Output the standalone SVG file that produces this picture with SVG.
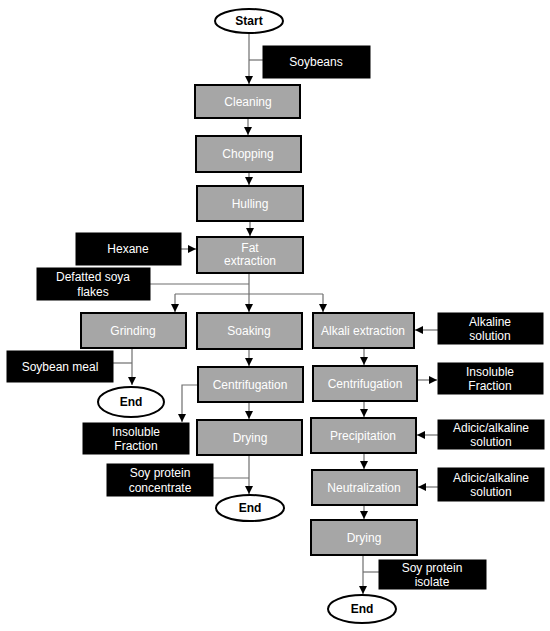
<svg xmlns="http://www.w3.org/2000/svg" width="550" height="631" viewBox="0 0 550 631">
<style>
.p rect{fill:#a6a6a6;stroke:#000;stroke-width:2}
.b rect{fill:#000;stroke:#000;stroke-width:1}
.t ellipse{fill:#fff;stroke:#000;stroke-width:2}
text{font-family:"Liberation Sans",Arial,sans-serif;font-size:12px;text-anchor:middle}
.p text,.b text{fill:#fff}
.t text{fill:#000;font-weight:bold}
.c path{fill:none;stroke:#6e6e6e;stroke-width:1.2}
</style>
<defs>
<marker id="a" viewBox="0 0 10 10" refX="10" refY="5" markerWidth="8" markerHeight="8" markerUnits="userSpaceOnUse" orient="auto">
<path d="M0,0 L10,5 L0,10 z" fill="#000"/>
</marker>
</defs>
<rect width="550" height="631" fill="#fff"/>
<g class="c">
<path d="M249,33 V84" marker-end="url(#a)"/>
<path d="M263,60 H249"/>
<path d="M248,118 V135" marker-end="url(#a)"/>
<path d="M249,172 V185" marker-end="url(#a)"/>
<path d="M250,221 V236" marker-end="url(#a)"/>
<path d="M181,249 H196" marker-end="url(#a)"/>
<path d="M150,284 H249"/>
<path d="M249,273 V294"/>
<path d="M175,294 H323"/>
<path d="M175,294 V312" marker-end="url(#a)"/>
<path d="M249,294 V312" marker-end="url(#a)"/>
<path d="M323,294 V312" marker-end="url(#a)"/>
<path d="M132,348 V385" marker-end="url(#a)"/>
<path d="M113,363 H132"/>
<path d="M249,349 V366" marker-end="url(#a)"/>
<path d="M198,385 H182 V422" marker-end="url(#a)"/>
<path d="M249,402 V419" marker-end="url(#a)"/>
<path d="M249,455 V494" marker-end="url(#a)"/>
<path d="M213,478 H249"/>
<path d="M438,330 H415" marker-end="url(#a)"/>
<path d="M364,348 V365" marker-end="url(#a)"/>
<path d="M417,380 H437" marker-end="url(#a)"/>
<path d="M364,401 V417" marker-end="url(#a)"/>
<path d="M438,435 H417" marker-end="url(#a)"/>
<path d="M364,453 V469" marker-end="url(#a)"/>
<path d="M438,487 H418" marker-end="url(#a)"/>
<path d="M364,505 V519" marker-end="url(#a)"/>
<path d="M363,555 V594" marker-end="url(#a)"/>
<path d="M379,572 H363"/>
</g>
<g id="start" class="t"><ellipse cx="249" cy="21" rx="34" ry="12"/><text x="249" y="25">Start</text></g>
<g id="soybeans" class="b"><rect x="263" y="46" width="107" height="32"/><text x="316" y="66">Soybeans</text></g>
<g id="cleaning" class="p"><rect x="195" y="85" width="105" height="33"/><text x="248" y="106">Cleaning</text></g>
<g id="chopping" class="p"><rect x="196" y="136" width="105" height="36"/><text x="248" y="158">Chopping</text></g>
<g id="hulling" class="p"><rect x="197" y="186" width="106" height="35"/><text x="250" y="208">Hulling</text></g>
<g id="hexane" class="b"><rect x="76" y="233" width="105" height="32"/><text x="128" y="253">Hexane</text></g>
<g id="fat" class="p"><rect x="197" y="237" width="106" height="36"/><text x="250" y="252">Fat</text><text x="250" y="265">extraction</text></g>
<g id="defatted" class="b"><rect x="37" y="268" width="113" height="32"/><text x="93" y="281">Defatted soya</text><text x="93" y="296">flakes</text></g>
<g id="grinding" class="p"><rect x="81" y="313" width="105" height="35"/><text x="133" y="335">Grinding</text></g>
<g id="soaking" class="p"><rect x="197" y="313" width="105" height="36"/><text x="249" y="335">Soaking</text></g>
<g id="alkali" class="p"><rect x="313" y="313" width="101" height="35"/><text x="363" y="335">Alkali extraction</text></g>
<g id="alkaline" class="b"><rect x="438" y="313" width="105" height="31"/><text x="490" y="326">Alkaline</text><text x="490" y="340">solution</text></g>
<g id="meal" class="b"><rect x="7" y="351" width="106" height="31"/><text x="60" y="371">Soybean meal</text></g>
<g id="end1" class="t"><ellipse cx="131" cy="402" rx="33" ry="15"/><text x="131" y="406">End</text></g>
<g id="centri1" class="p"><rect x="198" y="367" width="105" height="35"/><text x="250" y="389">Centrifugation</text></g>
<g id="centri2" class="p"><rect x="313" y="366" width="104" height="35"/><text x="365" y="388">Centrifugation</text></g>
<g id="insol2" class="b"><rect x="438" y="363" width="105" height="31"/><text x="490" y="376">Insoluble</text><text x="490" y="390">Fraction</text></g>
<g id="insol1" class="b"><rect x="83" y="423" width="106" height="31"/><text x="136" y="436">Insoluble</text><text x="136" y="450">Fraction</text></g>
<g id="drying1" class="p"><rect x="197" y="420" width="105" height="35"/><text x="250" y="442">Drying</text></g>
<g id="precip" class="p"><rect x="311" y="418" width="105" height="35"/><text x="363" y="440">Precipitation</text></g>
<g id="adicic1" class="b"><rect x="438" y="420" width="106" height="29"/><text x="491" y="432">Adicic/alkaline</text><text x="491" y="446">solution</text></g>
<g id="conc" class="b"><rect x="107" y="464" width="106" height="32"/><text x="160" y="477">Soy protein</text><text x="160" y="492">concentrate</text></g>
<g id="neutral" class="p"><rect x="312" y="470" width="105" height="35"/><text x="364" y="492">Neutralization</text></g>
<g id="adicic2" class="b"><rect x="438" y="468" width="106" height="33"/><text x="491" y="482">Adicic/alkaline</text><text x="491" y="496">solution</text></g>
<g id="end2" class="t"><ellipse cx="250" cy="508" rx="34" ry="13"/><text x="250" y="512">End</text></g>
<g id="drying2" class="p"><rect x="311" y="520" width="106" height="35"/><text x="364" y="542">Drying</text></g>
<g id="isolate" class="b"><rect x="379" y="560" width="107" height="29"/><text x="432" y="572">Soy protein</text><text x="432" y="586">isolate</text></g>
<g id="end3" class="t"><ellipse cx="362" cy="609" rx="34" ry="14"/><text x="362" y="613">End</text></g>
</svg>
